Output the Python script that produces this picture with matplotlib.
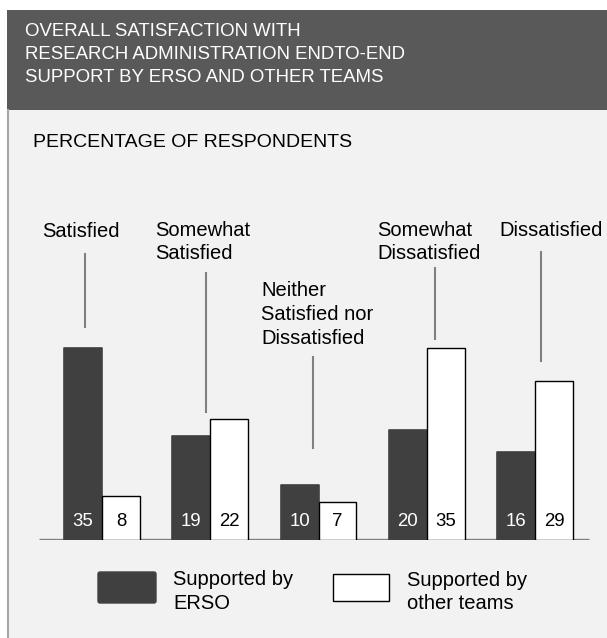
import numpy as np
import matplotlib.pyplot as plt
from matplotlib.patches import Rectangle, FancyBboxPatch

# ---- data ----
categories = ["Satisfied", "Somewhat\nSatisfied", "Neither\nSatisfied nor\nDissatisfied",
              "Somewhat\nDissatisfied", "Dissatisfied"]
erso = [35, 19, 10, 20, 16]
other_teams = [8, 22, 7, 35, 29]
series_names = ["Supported by\nERSO", "Supported by\nother teams"]
title = ("OVERALL SATISFACTION WITH\nRESEARCH ADMINISTRATION ENDTO-END\n"
         "SUPPORT BY ERSO AND OTHER TEAMS")
subtitle = "PERCENTAGE OF RESPONDENTS"

# ---- style / layout (pixels, origin top-left) ----
W, H = 607, 638
DARK = '#404040'
GREY_LINE = '#808080'
label_pos = [(42, 222), (155, 220.5), (261, 281), (377, 220.5), (499, 220.5)]
leaders = [(84.5, 254, 327), (206, 273, 412), (312.5, 357, 448),
           (434.5, 268, 339), (541, 252, 361)]

plt.rcParams['font.family'] = ['Liberation Sans', 'DejaVu Sans']

fig = plt.figure(figsize=(W / 100, H / 100), dpi=100)
fig.patch.set_facecolor('white')

# background / overlay axes in pixel coordinates
bg = fig.add_axes([0, 0, 1, 1])
bg.set_xlim(0, W)
bg.set_ylim(H, 0)
bg.axis('off')

bg.add_patch(Rectangle((7, 110), W - 7, H - 110, fc='#f2f2f2', ec='none'))
bg.plot([7.8, 7.8], [110, H], color='#a6a6a6', lw=1.5)
bg.add_patch(Rectangle((7, 10), W - 7, 100, fc='#595959', ec='none'))

bg.text(25, 23, title, color='white', fontsize=13.4, ha='left', va='top',
        linespacing=1.48)
bg.text(33, 134, subtitle, color='black', fontsize=14, ha='left', va='top')

for (lx, ly), cat in zip(label_pos, categories):
    bg.text(lx, ly, cat, fontsize=14.5, ha='left', va='top', linespacing=1.33)
for x, y0, y1 in leaders:
    bg.plot([x, x], [y0, y1], color=GREY_LINE, lw=1.5)

# legend
bg.add_patch(FancyBboxPatch((98, 572), 58, 31, boxstyle='round,pad=0,rounding_size=2',
                            fc=DARK, ec=DARK, lw=1))
bg.add_patch(Rectangle((333, 574), 56, 27, fc='white', ec='black', lw=1))
bg.text(173, 570, series_names[0], fontsize=14.5, ha='left', va='top', linespacing=1.33)
bg.text(407, 570.5, series_names[1], fontsize=14.5, ha='left', va='top', linespacing=1.33)

# ---- bar axes ----
px_per_unit = 5.5
x0_px, step_px = 102, 108.25
xlo, xhi = -0.6, 4.6
ylo, yhi = 0, 60
left = (x0_px + xlo * step_px) / W
width = (xhi - xlo) * step_px / W
bottom = (H - 540) / H
height = (yhi - ylo) * px_per_unit / H
ax = fig.add_axes([left, bottom, width, height])
ax.set_xlim(xlo, xhi)
ax.set_ylim(ylo, yhi)
ax.patch.set_visible(False)
ax.axis('off')

x = np.arange(len(categories))
bw = 0.35
ax.plot([-0.58, 4.5], [0, 0], color=GREY_LINE, lw=2.4, zorder=1, solid_capstyle='butt')
b1 = ax.bar(x - bw / 2, erso, bw, color=DARK, edgecolor=DARK, lw=1.2,
            joinstyle='round', zorder=2)
b2 = ax.bar(x + bw / 2, other_teams, bw, color='white', edgecolor='black', lw=1,
            zorder=2)

for xi, v in zip(x - bw / 2, erso):
    ax.annotate(str(v), (xi, 0), xytext=(0, 10), textcoords='offset points',
                ha='center', va='baseline', color='white', fontsize=13.4)
for xi, v in zip(x + bw / 2, other_teams):
    ax.annotate(str(v), (xi, 0), xytext=(0, 10), textcoords='offset points',
                ha='center', va='baseline', color='black', fontsize=13.4)

fig.savefig('out.png', dpi=100)
